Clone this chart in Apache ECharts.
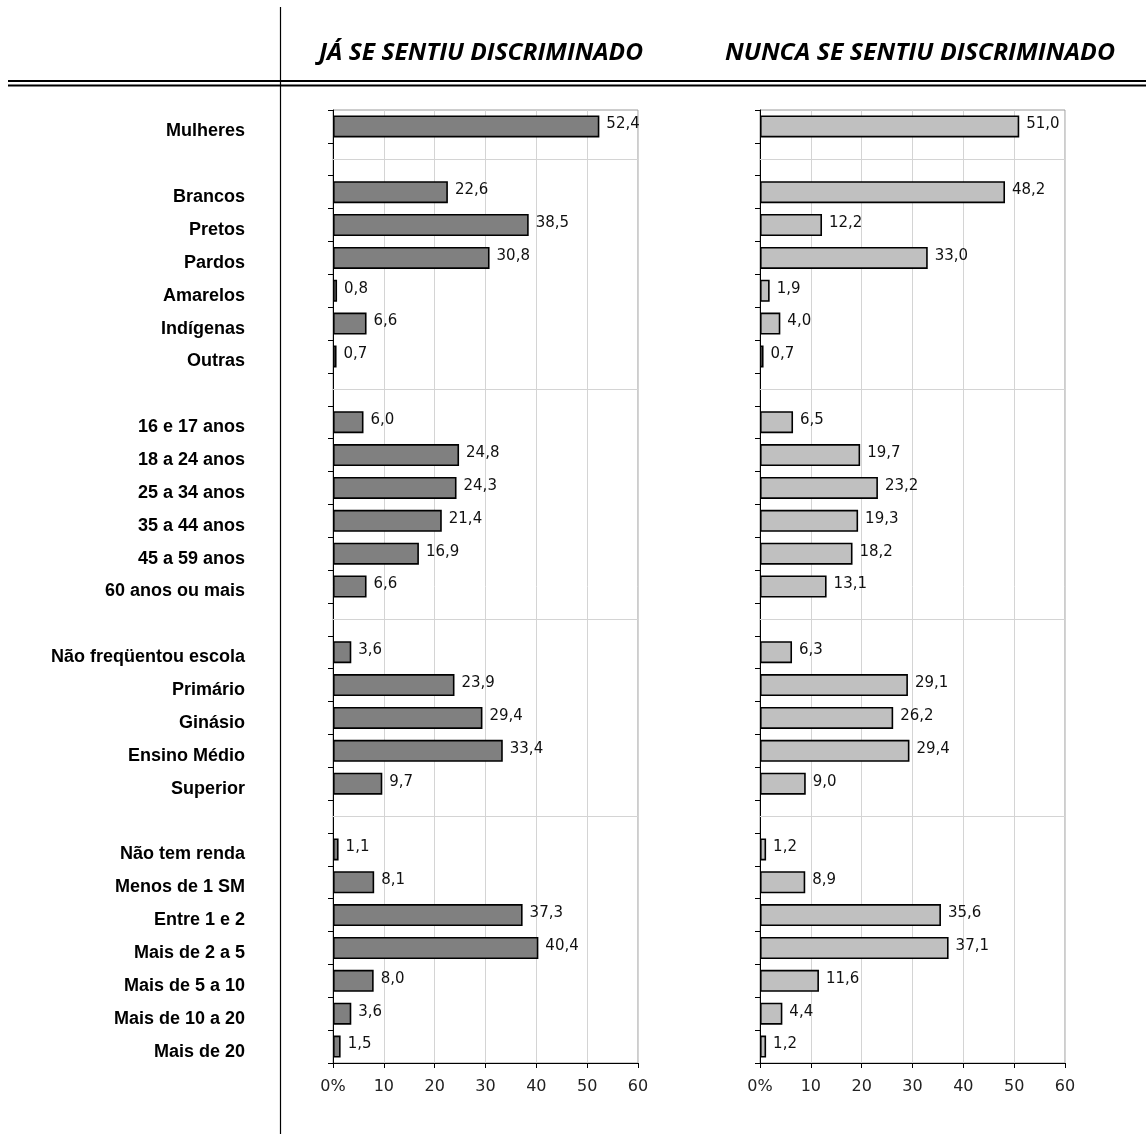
<!DOCTYPE html>
<html><head><meta charset="utf-8">
<script src="https://cdn.jsdelivr.net/npm/echarts@6/dist/echarts.min.js"></script>
<style>html,body{margin:0;padding:0;background:#fff}#c{width:1146px;height:1134px}</style>
</head><body><div id="c"></div>
<script>
const categories = ['Mulheres','sep1','Brancos','Pretos','Pardos','Amarelos','Indígenas','Outras','sep2',
  '16 e 17 anos','18 a 24 anos','25 a 34 anos','35 a 44 anos','45 a 59 anos','60 anos ou mais','sep3',
  'Não freqüentou escola','Primário','Ginásio','Ensino Médio','Superior','sep4',
  'Não tem renda','Menos de 1 SM','Entre 1 e 2','Mais de 2 a 5','Mais de 5 a 10','Mais de 10 a 20','Mais de 20'];
const separators = ['sep1','sep2','sep3','sep4'];
const jaDiscriminado = [52.4,null,22.6,38.5,30.8,0.8,6.6,0.7,null,6.0,24.8,24.3,21.4,16.9,6.6,null,3.6,23.9,29.4,33.4,9.7,null,1.1,8.1,37.3,40.4,8.0,3.6,1.5];
const nuncaDiscriminado = [51.0,null,48.2,12.2,33.0,1.9,4.0,0.7,null,6.5,19.7,23.2,19.3,18.2,13.1,null,6.3,29.1,26.2,29.4,9.0,null,1.2,8.9,35.6,37.1,11.6,4.4,1.2];
const xTickLabels = ['0%','10','20','30','40','50','60'];
const headers = ['JÁ SE SENTIU DISCRIMINADO','NUNCA SE SENTIU DISCRIMINADO'];

const chart = echarts.init(document.getElementById('c'), null, {renderer:'canvas'});

const cv = document.createElement('canvas').getContext('2d');
const headFont = 'italic 700 24px "Open Sans"';
cv.font = headFont;
function headerText(txt, x, targetW){
  const w = cv.measureText(txt).width;
  return {type:'text', x:x, y:53, scaleX: targetW / w,
    style:{text:txt, font:headFont, fill:'#000', textAlign:'left', textVerticalAlign:'middle'}};
}

function xAxis(i){
  return {type:'value', gridIndex:i, min:0, max:60, interval:10,
    axisLine:{show:true, lineStyle:{color:'#000', width:1}},
    axisTick:{show:true, length:5, lineStyle:{color:'#000'}},
    splitLine:{show:true, lineStyle:{color:'#d4d4d4', width:1}},
    axisLabel:{margin:16, fontFamily:'DejaVu Sans', fontSize:16, color:'#222',
      formatter: v => xTickLabels[Math.round(v/10)]}};
}
function yAxis(i){
  return {type:'category', gridIndex:i, data:categories, inverse:true,
    axisLine:{show:true, lineStyle:{color:'#000', width:1}},
    axisTick:{show:true, length:5, lineStyle:{color:'#000'}},
    splitLine:{show:false},
    axisLabel:{show: i===0, interval:0, margin:88, color:'#000',
      fontFamily:'Liberation Sans', fontWeight:'bold', fontSize:18,
      verticalAlign:'top', lineHeight:10,
      formatter: v => v.startsWith('sep') ? '' : v}};
}
function barSeries(i, data, color){
  return {type:'bar', xAxisIndex:i, yAxisIndex:i, data:data, barWidth:22,
    itemStyle:{color:color, borderColor:'#000', borderWidth:1.6},
    label:{show:true, position:'right', distance:7, offset:[0,-2],
      fontFamily:'DejaVu Sans', fontSize:15, color:'#111',
      formatter: p => (p.value == null ? '' : Number(p.value).toFixed(1).replace('.', ','))},
    markLine:{silent:true, symbol:'none', animation:false, label:{show:false},
      lineStyle:{color:'#d4d4d4', width:1, type:'solid'},
      data: separators.map(s => ({yAxis:s}))}};
}

chart.setOption({
  animation:false,
  backgroundColor:'#fff',
  grid:[
    {left:333, top:110, width:305, height:953, show:true, borderColor:'#9a9a9a', borderWidth:1},
    {left:760, top:110, width:305, height:953, show:true, borderColor:'#9a9a9a', borderWidth:1}
  ],
  xAxis:[xAxis(0), xAxis(1)],
  yAxis:[yAxis(0), yAxis(1)],
  series:[barSeries(0, jaDiscriminado, '#808080'), barSeries(1, nuncaDiscriminado, '#c0c0c0')],
  graphic:[
    {type:'line', shape:{x1:8, y1:81, x2:1146, y2:81}, style:{stroke:'#000', lineWidth:2}},
    {type:'line', shape:{x1:8, y1:85.5, x2:1146, y2:85.5}, style:{stroke:'#000', lineWidth:2}},
    {type:'line', shape:{x1:280.5, y1:7, x2:280.5, y2:1134}, style:{stroke:'#000', lineWidth:1.2}},
    headerText(headers[0], 319, 324),
    headerText(headers[1], 725, 390)
  ]
});
</script></body></html>
